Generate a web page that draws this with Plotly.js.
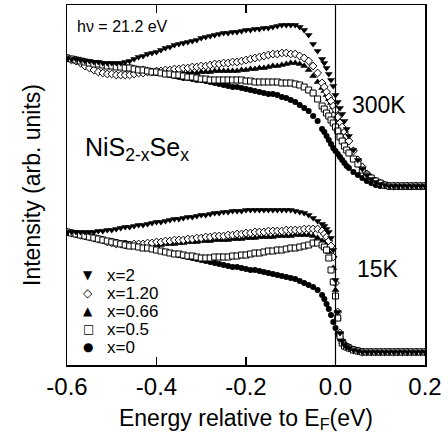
<!DOCTYPE html>
<html>
<head>
<meta charset="utf-8">
<script src="https://cdn.plot.ly/plotly-3.0.1.min.js"></script>
<style>html,body{margin:0;padding:0;background:#fff;}#chart{width:448px;height:434px;}</style>
</head>
<body>
<div id="chart"></div>
<script>
// Energy grid (eV, relative to E_F)
var energy = [-0.60,-0.59,-0.58,-0.57,-0.56,-0.55,-0.54,-0.53,-0.52,-0.51,-0.50,-0.49,-0.48,-0.47,-0.46,-0.45,-0.44,-0.43,-0.42,-0.41,-0.40,-0.39,-0.38,-0.37,-0.36,-0.35,-0.34,-0.33,-0.32,-0.31,-0.30,-0.29,-0.28,-0.27,-0.26,-0.25,-0.24,-0.23,-0.22,-0.21,-0.20,-0.19,-0.18,-0.17,-0.16,-0.15,-0.14,-0.13,-0.12,-0.11,-0.10,-0.09,-0.08,-0.07,-0.06,-0.05,-0.04,-0.03,-0.025,-0.02,-0.015,-0.01,-0.005,0,0.005,0.01,0.015,0.02,0.025,0.03,0.04,0.05,0.06,0.07,0.08,0.09,0.10,0.11,0.12,0.13,0.14,0.15,0.16,0.17,0.18,0.19,0.20];

var compositions = ["x=2", "x=1.20", "x=0.66", "x=0.5", "x=0"];

// 300 K spectra (arb. units)
var i300_x2 = [307,306,306,305,304,304,303,303,302,302, 302,302,302,303,304,306,308,309,311,312, 313,315,317,318,320,321,322,323,324,325, 327,328,329,330,331,332,332,333,333,334, 335,335,336,336,337,337,338,339,340,340, 340,340,338,335,330,321,314,306,302,297, 291,285,279,270,263,257,251,244,236,229, 215,205,196,190,186,183,181,180,179,179, 179,179,179,179,179,179,179];
var i300_x120 = [307,305,304,302,299,297,295,293,292,291, 291,290,290,290,290,291,292,292,293,293, 294,294,295,295,296,296,297,297,298,298, 299,299,300,301,301,302,302,303,303,304, 305,306,307,308,309,310,311,311,312,312, 311,311,309,307,304,299,292,282,278,273, 268,264,259,255,248,242,238,233,229,224, 214,205,198,191,187,184,182,180,179,179, 179,179,179,179,179,179,179];
var i300_x066 = [307,306,306,305,304,303,302,302,301,300, 300,299,299,298,298,297,296,296,295,294, 294,293,293,292,292,292,292,292,292,292, 293,293,293,294,294,294,294,294,294,295, 295,296,296,297,297,298,299,299,300,301, 302,302,301,299,295,289,283,277,274,270, 266,262,258,254,249,244,239,234,230,225, 215,206,199,192,188,184,182,180,179,179, 179,179,179,179,179,179,179];
var i300_x05 = [307,306,305,304,303,302,301,301,300,299, 299,298,298,297,297,296,295,295,294,293, 293,292,291,291,290,290,289,288,288,287, 286,286,285,285,285,285,285,285,285,285, 284,284,283,283,283,283,283,283,282,282, 282,281,280,278,275,272,266,259,256,252, 249,245,242,238,234,228,224,219,215,212, 206,201,195,190,187,184,182,180,179,179, 179,179,179,179,179,179,179];
var i300_x0 = [307,306,305,304,303,302,301,301,300,299, 299,298,298,297,297,296,295,294,294,293, 292,292,291,290,289,288,287,287,286,285, 285,284,283,282,281,280,279,278,278,277, 276,275,274,273,272,271,271,270,268,267, 265,263,260,257,254,249,244,236,233,229, 225,221,217,214,211,208,205,202,199,197, 193,190,187,184,182,180,179,179,178,178, 178,178,178,178,178,178,178];

// 15 K spectra (arb. units)
var i15_x2 = [133,133,133,133,133,133,133,134,134,135, 135,136,137,138,138,139,140,140,141,142, 143,143,144,145,146,146,147,148,148,149, 150,150,151,152,152,153,153,154,154,154, 155,155,155,155,155,155,155,155,155,155, 155,154,153,152,150,147,144,141,139,136, 133,127,115,85,53,32,24,20,18,17, 15,14,13,13,13,13,13,13,13,13, 13,13,13,13,13,13,13];
var i15_x120 = [133,132,131,130,129,128,127,126,125,123, 122,121,121,120,120,121,121,121,122,122, 123,123,124,124,125,125,125,126,126,127, 127,128,128,129,129,129,130,130,131,131, 132,132,133,133,133,134,134,134,134,135, 135,135,135,136,136,136,136,134,131,128, 124,119,108,82,53,32,24,20,18,17, 15,14,13,13,13,13,13,13,13,13, 13,13,13,13,13,13,13];
var i15_x066 = [133,132,131,130,129,128,127,126,124,123, 122,121,120,119,119,119,119,119,120,120, 120,120,121,121,121,122,122,123,123,123, 124,124,124,125,125,125,125,126,126,126, 127,127,127,128,128,128,128,129,129,129, 129,130,130,130,130,129,127,124,122,118, 113,107,97,75,48,30,23,20,18,17, 15,14,13,13,13,13,13,13,13,13, 13,13,13,13,13,13,13];
var i15_x05 = [133,132,131,130,129,128,127,126,125,124, 123,122,121,120,119,119,118,117,117,116, 115,114,113,112,111,111,110,109,109,108, 107,107,107,108,108,108,108,109,109,110, 110,111,112,112,113,114,114,115,115,116, 117,117,118,119,120,122,122,120,118,115, 107,95,83,69,47,29,22,19,18,17, 15,14,13,13,13,13,13,13,13,13, 13,13,13,13,13,13,13];
var i15_x0 = [133,132,131,130,129,128,127,126,125,124, 124,123,122,122,121,120,119,118,117,116, 115,114,113,112,111,110,109,108,107,106, 105,104,103,102,101,100,99,98,98,97, 96,95,95,94,93,92,91,90,89,88, 87,86,84,82,80,78,75,70,66,61, 56,50,43,37,31,26,23,21,19,18, 16,15,14,13,13,13,13,13,13,13, 13,13,13,13,13,13,13];

var energyTicks = [-0.6, -0.4, -0.2, 0.0, 0.2];
var tickLabels = ["-0.6", "-0.4", "-0.2", "0.0", "0.2"];
var fermiLevel = 0;

var FONT = "Liberation Sans, Arial, Helvetica, sans-serif";

var styles = {
  "x=2":    {symbol: "triangle-down", size: 7, color: "black", line: {color: "black", width: 0}, glyph: "\u25BC"},
  "x=1.20": {symbol: "diamond", size: 6, color: "white", line: {color: "black", width: 1}, glyph: "\u25C7"},
  "x=0.66": {symbol: "triangle-up", size: 7, color: "black", line: {color: "black", width: 0}, glyph: "\u25B2"},
  "x=0.5":  {symbol: "square", size: 6, color: "white", line: {color: "black", width: 1}, glyph: "\u25A1"},
  "x=0":    {symbol: "circle", size: 6, color: "black", line: {color: "black", width: 0}, glyph: "\u25CF"}
};

var series300 = {"x=2": i300_x2, "x=1.20": i300_x120, "x=0.66": i300_x066, "x=0.5": i300_x05, "x=0": i300_x0};
var series15 = {"x=2": i15_x2, "x=1.20": i15_x120, "x=0.66": i15_x066, "x=0.5": i15_x05, "x=0": i15_x0};

var drawOrder = ["x=0", "x=0.66", "x=1.20", "x=0.5", "x=2"];
var traces = [];
[["300K", series300], ["15K", series15]].forEach(function (pair) {
  drawOrder.forEach(function (c) {
    var s = styles[c];
    traces.push({
      type: "scatter", mode: "markers", x: energy, y: pair[1][c],
      name: c + " (" + pair[0] + ")", showlegend: false,
      marker: {symbol: s.symbol, size: s.size, color: s.color, line: s.line}
    });
  });
});

function note(text, x, y, size, extra) {
  var a = {text: text, xref: "paper", yref: "paper", x: x, y: y, xanchor: "center", yanchor: "middle",
    showarrow: false, font: {family: FONT, size: size, color: "black"}};
  if (extra) { for (var k in extra) { a[k] = extra[k]; } }
  return a;
}

var annotations = [
  note("h\u03BD = 21.2 eV", 0.156, 0.939, 16),
  note("NiS<sub>2-x</sub>Se<sub>x</sub>", 0.196, 0.60, 25),
  note("300K", 0.872, 0.722, 23),
  note("15K", 0.869, 0.267, 23)
];
var legendY = [0.25, 0.2, 0.15, 0.1, 0.05];
compositions.forEach(function (c, i) {
  annotations.push(note(styles[c].glyph, 0.0587, legendY[i], 12, {font: {family: "DejaVu Sans, sans-serif", size: 12, color: "black"}}));
  annotations.push(note(c, 0.106, legendY[i], 17, {xanchor: "left"}));
});

var layout = {
  width: 448, height: 434,
  margin: {l: 67, r: 23, t: 5, b: 69},
  paper_bgcolor: "white", plot_bgcolor: "white",
  showlegend: false,
  font: {family: FONT, color: "black"},
  xaxis: {
    range: [-0.6, 0.2], tickvals: energyTicks, ticktext: tickLabels,
    ticks: "inside", ticklen: 8, tickwidth: 1.2, tickcolor: "black",
    showline: true, linewidth: 1.5, linecolor: "black", mirror: "ticks",
    showgrid: false, zeroline: false,
    tickfont: {family: FONT, size: 24, color: "black"},
    title: {text: "Energy relative to E<sub>F</sub>(eV)", font: {family: FONT, size: 23, color: "black"}, standoff: 10}
  },
  yaxis: {
    range: [0, 360], showticklabels: false, ticks: "",
    showline: true, linewidth: 1.5, linecolor: "black", mirror: true,
    showgrid: false, zeroline: false,
    title: {text: "Intensity (arb. units)", font: {family: FONT, size: 23, color: "black"}, standoff: 18}
  },
  shapes: [{type: "line", xref: "x", yref: "paper", x0: fermiLevel, x1: fermiLevel, y0: 0, y1: 1, line: {color: "black", width: 1.2}}],
  annotations: annotations
};

Plotly.newPlot("chart", traces, layout, {displayModeBar: false, staticPlot: true});
</script>
</body>
</html>
